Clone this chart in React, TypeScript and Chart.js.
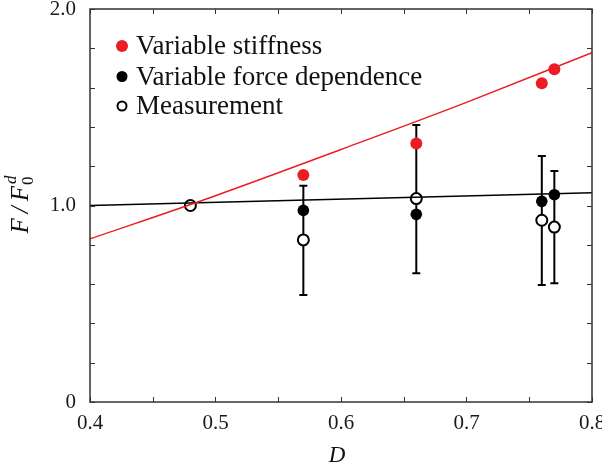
import React, { useEffect, useRef } from "react";
import { Chart, registerables } from "chart.js";

Chart.register(...registerables);

// ---- data ----
const measD = [0.48, 0.57, 0.66, 0.76, 0.77];
const measF = [1.0, 0.825, 1.035, 0.925, 0.89];
const measLow = [null, 0.545, 0.655, 0.595, 0.604];
const measHigh = [null, 1.1, 1.41, 1.252, 1.175];

const modelD = [0.57, 0.66, 0.76, 0.77];
const stiffF = [1.155, 1.315, 1.622, 1.693];
const forceF = [0.975, 0.955, 1.021, 1.055];

const stiffLineD = [0.4, 0.5, 0.6, 0.7, 0.8];
const stiffLineF = [0.83, 1.05, 1.285, 1.525, 1.778];
const forceLineD = [0.4, 0.8];
const forceLineF = [1.0, 1.065];

const legendLabels = ["Variable stiffness", "Variable force dependence", "Measurement"];
const xTitle = "D";

const RED = "#ec1c24";
const SERIF = "'Liberation Serif', 'Times New Roman', serif";

const pts = (xs: number[], ys: number[]) => xs.map((x, i) => ({ x, y: ys[i] }));

const framePlugin = {
  id: "frameTicks",
  beforeDatasetsDraw(chart: any) {
    const { ctx, scales } = chart;
    const xs = scales.x;
    const ys = scales.y;
    ctx.save();
    ctx.strokeStyle = "#000";
    ctx.lineWidth = 2;
    measD.forEach((d, i) => {
      const lo = measLow[i];
      const hi = measHigh[i];
      if (lo == null || hi == null) return;
      const px = xs.getPixelForValue(d);
      const p1 = ys.getPixelForValue(lo);
      const p2 = ys.getPixelForValue(hi);
      ctx.beginPath();
      ctx.moveTo(px, p1);
      ctx.lineTo(px, p2);
      ctx.moveTo(px - 4, p1);
      ctx.lineTo(px + 4, p1);
      ctx.moveTo(px - 4, p2);
      ctx.lineTo(px + 4, p2);
      ctx.stroke();
    });
    ctx.restore();
  },
  afterDraw(chart: any) {
    const { ctx, chartArea: a, scales } = chart;
    const xs = scales.x;
    const ys = scales.y;
    ctx.save();
    ctx.strokeStyle = "#333";
    ctx.lineWidth = 1.5;
    ctx.strokeRect(a.left, a.top, a.right - a.left, a.bottom - a.top);
    ctx.lineWidth = 1;
    ctx.beginPath();
    const tl = 5;
    xs.ticks.forEach((t: any) => {
      const px = Math.round(xs.getPixelForValue(t.value)) + 0.5;
      ctx.moveTo(px, a.bottom);
      ctx.lineTo(px, a.bottom - tl);
      ctx.moveTo(px, a.top);
      ctx.lineTo(px, a.top + tl);
    });
    ys.ticks.forEach((t: any) => {
      const py = Math.round(ys.getPixelForValue(t.value)) + 0.5;
      ctx.moveTo(a.left, py);
      ctx.lineTo(a.left + tl, py);
      ctx.moveTo(a.right, py);
      ctx.lineTo(a.right - tl, py);
    });
    ctx.stroke();

    // legend
    const lx = 122;
    const tx = 136;
    const rows = [46, 76.5, 106];
    ctx.font = `27px ${SERIF}`;
    ctx.textBaseline = "middle";
    ctx.textAlign = "left";
    rows.forEach((ry, i) => {
      ctx.beginPath();
      if (i === 0) {
        ctx.fillStyle = RED;
        ctx.arc(lx, ry, 6, 0, Math.PI * 2);
        ctx.fill();
      } else if (i === 1) {
        ctx.fillStyle = "#000";
        ctx.arc(lx, ry, 5.5, 0, Math.PI * 2);
        ctx.fill();
      } else {
        ctx.fillStyle = "#fff";
        ctx.strokeStyle = "#000";
        ctx.lineWidth = 2;
        ctx.arc(lx, ry, 4.5, 0, Math.PI * 2);
        ctx.fill();
        ctx.stroke();
      }
      ctx.fillStyle = "#111";
      ctx.fillText(legendLabels[i], tx, ry + 1);
    });

    // x title
    ctx.font = `italic 23px ${SERIF}`;
    ctx.textAlign = "center";
    ctx.textBaseline = "alphabetic";
    ctx.fillText(xTitle, 337, 462);

    // y title  F/F_0^d
    ctx.translate(28, 205);
    ctx.rotate(-Math.PI / 2);
    const main = "F\u2009/\u2009F";
    ctx.font = `italic 25px ${SERIF}`;
    const wMain = ctx.measureText(main).width;
    ctx.font = `17px ${SERIF}`;
    const wSub = ctx.measureText("0").width;
    const total = wMain + wSub + 1;
    const x0 = -total / 2;
    ctx.textAlign = "left";
    ctx.font = `italic 25px ${SERIF}`;
    ctx.fillText(main, x0, 0);
    ctx.font = `17px ${SERIF}`;
    ctx.fillText("0", x0 + wMain + 1, 5);
    ctx.font = `italic 17px ${SERIF}`;
    ctx.fillText("d", x0 + wMain + 2, -12);
    ctx.restore();
  },
};

export default function App() {
  const ref = useRef<HTMLCanvasElement>(null);
  useEffect(() => {
    if (!ref.current) return;
    const chart = new Chart(ref.current, {
      type: "scatter",
      data: {
        datasets: [
          {
            type: "line",
            data: pts(stiffLineD, stiffLineF),
            borderColor: RED,
            borderWidth: 1.5,
            pointRadius: 0,
            cubicInterpolationMode: "monotone",
            fill: false,
          } as any,
          {
            type: "line",
            data: pts(forceLineD, forceLineF),
            borderColor: "#000",
            borderWidth: 1.5,
            pointRadius: 0,
            fill: false,
          } as any,
          {
            data: pts(modelD, stiffF),
            backgroundColor: RED,
            borderColor: RED,
            borderWidth: 0,
            pointRadius: 6,
          },
          {
            data: pts(modelD, forceF),
            backgroundColor: "#000",
            borderColor: "#000",
            borderWidth: 0,
            pointRadius: 5.8,
          },
          {
            data: pts(measD, measF),
            backgroundColor: "#fff",
            borderColor: "#000",
            borderWidth: 2,
            pointRadius: 5.5,
          },
        ],
      },
      options: {
        animation: false,
        responsive: false,
        layout: { padding: { left: 0, right: 10, top: 9, bottom: 0 } },
        plugins: { legend: { display: false }, tooltip: { enabled: false } },
        scales: {
          x: {
            type: "linear",
            min: 0.4,
            max: 0.8,
            grid: { display: false, drawTicks: false },
            border: { display: false },
            ticks: {
              stepSize: 0.05,
              autoSkip: false,
              maxRotation: 0,
              padding: 9,
              color: "#1a1a1a",
              font: { family: SERIF, size: 21 },
              callback: (v: any) => {
                const n = Number(v);
                return Math.abs(n * 10 - Math.round(n * 10)) < 1e-6 ? n.toFixed(1) : "";
              },
            },
            afterFit: (s: any) => {
              s.height = 68;
              s.paddingLeft = 0;
              s.paddingRight = 0;
            },
          },
          y: {
            type: "linear",
            min: 0,
            max: 2,
            grid: { display: false, drawTicks: false },
            border: { display: false },
            ticks: {
              stepSize: 0.2,
              autoSkip: false,
              padding: 14,
              color: "#1a1a1a",
              font: { family: SERIF, size: 21 },
              callback: (v: any) => {
                const n = Number(v);
                if (Math.abs(n) < 1e-6) return "0";
                if (Math.abs(n - 1) < 1e-6) return "1.0";
                if (Math.abs(n - 2) < 1e-6) return "2.0";
                return "";
              },
            },
            afterFit: (s: any) => {
              s.width = 90;
              s.paddingTop = 0;
              s.paddingBottom = 0;
            },
          },
        },
      } as any,
      plugins: [framePlugin],
    });
    return () => chart.destroy();
  }, []);
  return (
    <div style={{ position: "fixed", left: 0, top: 0, width: 602, height: 470, background: "#fff" }}>
      <canvas ref={ref} width={602} height={470} style={{ width: 602, height: 470 }} />
    </div>
  );
}
